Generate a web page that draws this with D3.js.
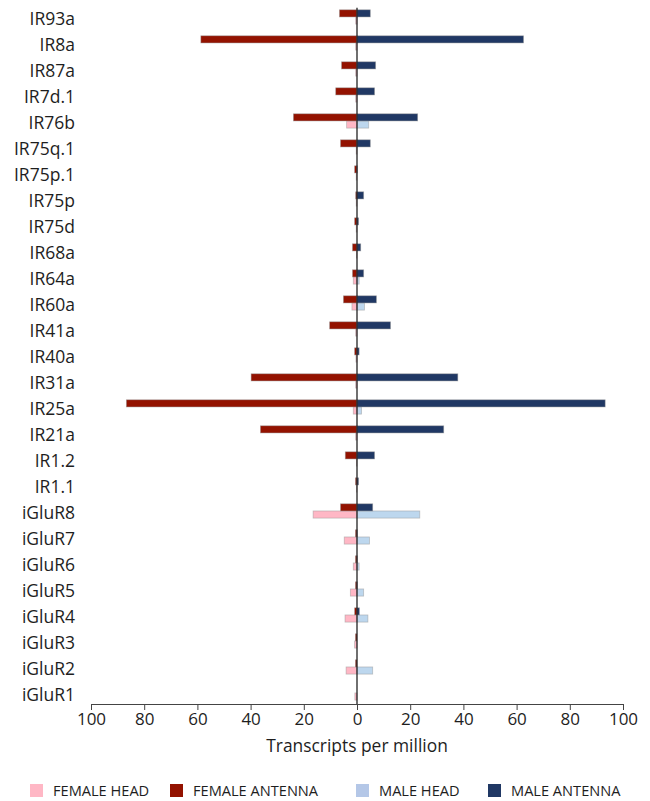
<!DOCTYPE html>
<html>
<head>
<meta charset="utf-8">
<script src="https://cdn.jsdelivr.net/npm/d3@7"></script>
<style>
  html, body { margin: 0; padding: 0; background: #fff; }
  svg { display: block; font-family: "Open Sans", "Noto Sans", sans-serif; }
</style>
</head>
<body>
<svg id="chart" width="650" height="801"></svg>
<script>
// Receptor genes, top to bottom
const categories = ["IR93a","IR8a","IR87a","IR7d.1","IR76b","IR75q.1","IR75p.1","IR75p","IR75d","IR68a","IR64a","IR60a","IR41a","IR40a","IR31a","IR25a","IR21a","IR1.2","IR1.1","iGluR8","iGluR7","iGluR6","iGluR5","iGluR4","iGluR3","iGluR2","iGluR1"];

// Expression in transcripts per million
const femaleAntenna = [6.6, 58.7, 5.8, 8.0, 23.9, 6.2, 0.9, 0.5, 0.9, 1.7, 1.7, 5.1, 10.3, 0.9, 39.8, 86.7, 36.3, 4.4, 0.6, 6.2, 0.6, 0.6, 0.6, 0.9, 0.6, 0.6, 0];
const maleAntenna   = [5.0, 62.6, 7.0, 6.6, 22.8, 5.0, 0.1, 2.5, 0.6, 1.4, 2.5, 7.3, 12.6, 0.8, 37.9, 93.3, 32.6, 6.6, 0.6, 5.9, 0.1, 0.1, 0.1, 0.9, 0, 0, 0];
const femaleHead    = [0.5, 0.5, 0.5, 0.5, 3.9, 0.3, 0.3, 0.3, 0.3, 0.2, 1.4, 1.9, 0.5, 0.4, 0.5, 1.4, 0.5, 0.2, 0.2, 16.5, 4.8, 1.4, 2.5, 4.5, 0.9, 4.1, 0.8];
const maleHead      = [0, 0, 0, 0, 4.4, 0, 0, 0, 0, 0, 0.8, 2.8, 0, 0, 0, 1.7, 0, 0, 0, 23.6, 4.7, 0.8, 2.5, 4.1, 0, 5.9, 0];

const xTicks = [-100, -80, -60, -40, -20, 0, 20, 40, 60, 80, 100];

const series = [
  { key: "FEMALE HEAD",    values: femaleHead,    side: -1, row: "head",    color: "#ffb7c5", swatch: "#ffb7c5" },
  { key: "FEMALE ANTENNA", values: femaleAntenna, side: -1, row: "antenna", color: "#931200", swatch: "#931200" },
  { key: "MALE HEAD",      values: maleHead,      side:  1, row: "head",    color: "#bdd7ee", swatch: "#b4c7e7" },
  { key: "MALE ANTENNA",   values: maleAntenna,   side:  1, row: "antenna", color: "#203864", swatch: "#203864" }
];

const svg = d3.select("#chart");
const margin = { left: 91, right: 27, top: 2 };
const W = 650;
const axisY = 704;
const textColor = "#1e1e1e";

const x = d3.scaleLinear().domain([-100, 100]).range([margin.left, W - margin.right]);
const y = d3.scaleBand().domain(categories).range([margin.top, axisY]).padding(0);
const rows = d3.scaleBand().domain(["antenna", "head"])
  .range([y.bandwidth() * 0.30, y.bandwidth() * 0.85]).padding(0);

// Bars
series.forEach(s => {
  svg.append("g").selectAll("rect")
    .data(categories.map((c, i) => ({ c, v: s.values[i] })))
    .join("rect")
    .attr("x", d => s.side < 0 ? x(-d.v) : x(0))
    .attr("width", d => Math.abs(x(d.v) - x(0)))
    .attr("y", d => y(d.c) + rows(s.row))
    .attr("height", rows.bandwidth())
    .attr("fill", s.color)
    .attr("stroke", d => d.v > 0 ? "rgba(150,150,150,0.55)" : "none")
    .attr("stroke-width", 0.8);
});

// Zero line
svg.append("line")
  .attr("x1", x(0)).attr("x2", x(0))
  .attr("y1", y(categories[0]) + rows("antenna") - 2).attr("y2", axisY)
  .attr("stroke", "#222").attr("stroke-width", 1.3);

// Category labels
svg.append("g").selectAll("text")
  .data(categories)
  .join("text")
  .attr("x", 75)
  .attr("y", d => y(d) + rows("head") + 1.5)
  .attr("dy", "0.35em")
  .attr("text-anchor", "end")
  .attr("font-size", 17.5)
  .attr("fill", textColor)
  .text(d => d);

// X axis
const xAxis = d3.axisBottom(x)
  .tickValues(xTicks)
  .tickFormat(d => Math.abs(d))
  .tickSizeInner(6)
  .tickSizeOuter(0)
  .tickPadding(3);
const ax = svg.append("g").attr("transform", `translate(0,${axisY})`).call(xAxis);
ax.select(".domain").attr("stroke", "#444").attr("stroke-width", 1);
ax.selectAll(".tick line").attr("stroke", "#444");
ax.selectAll(".tick text")
  .attr("font-size", 17)
  .attr("font-family", "'Open Sans', 'Noto Sans', sans-serif")
  .attr("fill", textColor);

// Axis title
svg.append("text")
  .attr("x", x(0))
  .attr("y", 746)
  .attr("dy", "0.35em")
  .attr("text-anchor", "middle")
  .attr("font-size", 17.4)
  .attr("fill", textColor)
  .text("Transcripts per million");

// Legend
const legendX = [30, 170, 356, 488];
const lg = svg.append("g").selectAll("g")
  .data(series)
  .join("g")
  .attr("transform", (d, i) => `translate(${legendX[i]},784)`);
lg.append("rect")
  .attr("width", 13).attr("height", 13)
  .attr("fill", d => d.swatch);
lg.append("text")
  .attr("x", 23).attr("y", 6.5)
  .attr("dy", "0.35em")
  .attr("font-size", 14.6)
  .attr("fill", textColor)
  .text(d => d.key);
</script>
</body>
</html>
